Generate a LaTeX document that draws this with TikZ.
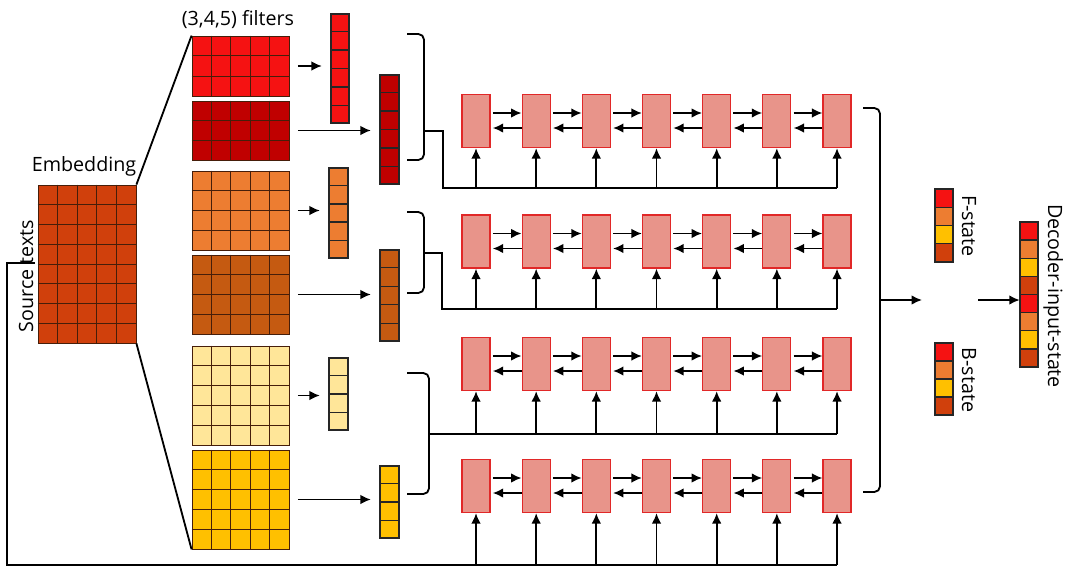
\documentclass[tikz,border=0pt]{standalone}
\usepackage{fontspec}
\setmainfont{Open Sans}
\usepackage{tikz}
\usetikzlibrary{arrows.meta,calc,fit}

\definecolor{embred}{RGB}{208,64,12}
\definecolor{fred}{RGB}{245,18,18}
\definecolor{fdark}{RGB}{192,0,0}
\definecolor{forange}{RGB}{237,125,49}
\definecolor{fbrown}{RGB}{197,90,17}
\definecolor{flight}{RGB}{255,230,153}
\definecolor{fgold}{RGB}{255,192,0}
\definecolor{cellfill}{RGB}{232,148,138}
\definecolor{celledge}{RGB}{225,40,40}
\definecolor{gridcol}{RGB}{70,30,10}

\begin{document}
\begin{tikzpicture}[x=0.025cm, y=-0.025cm,
  every node/.style={font=\fontsize{14}{16}\selectfont},
  matbox/.style={inner sep=0pt, draw=gridcol, line width=0.6pt},
  vecbox/.style={draw=black!85, line width=1pt},
  gridl/.style={draw=gridcol, line width=0.6pt},
  lstm/.style={draw=celledge, fill=cellfill, line width=0.9pt,
    minimum width=0.7cm, minimum height=1.325cm, inner sep=0pt},
  arr/.style={-{Latex[length=2.6mm,width=2.4mm]}, line width=1.3pt},
  wire/.style={line width=1.3pt}]
  \useasboundingbox (0,0) rectangle (1080,567);

  % embedding and the six filter maps
  \foreach \nm/\xa/\ya/\xb/\yb/\fc/\nc/\nr in {
      emb/38/185/136/343/embred/5/8,
      f1/192/36/289/96/fred/5/3,
      f2/192/101/289/160/fdark/5/3,
      f3/192/171/289/250/forange/5/4,
      f4/192/255/289/334/fbrown/5/4,
      f5/192/346/289/445/flight/5/5,
      f6/192/450/289/549/fgold/5/5} {
    \node[matbox, fill=\fc, fit={(\xa,\ya)(\xb,\yb)}] (\nm) {};
    \pgfmathtruncatemacro\ncm{\nc-1}
    \pgfmathtruncatemacro\nrm{\nr-1}
    \foreach \i in {1,...,\ncm}
      \draw[gridl] ($(\nm.north west)!\i/\nc!(\nm.north east)$) -- ($(\nm.south west)!\i/\nc!(\nm.south east)$);
    \foreach \j in {1,...,\nrm}
      \draw[gridl] ($(\nm.north west)!\j/\nr!(\nm.south west)$) -- ($(\nm.north east)!\j/\nr!(\nm.south east)$);
  }

  % pooled vectors
  \foreach \nm/\xa/\ya/\xb/\yb/\fc/\nr in {
      v1/331/14/349/123/fred/6,
      v2/380/75/399/184/fdark/6,
      v3/329/168/348/258/forange/5,
      v4/380/250/399/341/fbrown/5,
      v5/329/358/348/430/flight/4,
      v6/380/466/399/538/fgold/4} {
    \node[inner sep=0pt, vecbox, fill=\fc, fit={(\xa,\ya)(\xb,\yb)}] (\nm) {};
    \pgfmathtruncatemacro\nrm{\nr-1}
    \foreach \j in {1,...,\nrm}
      \draw[vecbox] ($(\nm.north west)!\j/\nr!(\nm.south west)$) -- ($(\nm.north east)!\j/\nr!(\nm.south east)$);
  }

  \node[anchor=base] (emblabel) at (84,171) {Embedding};
  \node[anchor=base] (filtlabel) at (238,25) {(3,4,5) filters};
  \node[anchor=base, rotate=90] (srclabel) at (33,276) {Source texts};

  \draw[wire] (emb.north east) -- (f1.north west);
  \draw[wire] (emb.south east) -- (f6.south west);
  \foreach \i in {1,...,6}
    \draw[arr, shorten <=6pt, shorten >=6pt] (f\i.east) -- (f\i.east -| v\i.west);

  % four bi-directional rows
  \foreach \r/\y in {1/121,2/241.5,3/364,4/486}
    \foreach \c in {1,...,7}
      \node[lstm] (r\r-\c) at ({476+60.17*(\c-1)},\y) {};
  \foreach \r in {1,...,4}
    \foreach \c [count=\d from 2] in {1,...,6} {
      \draw[arr, shorten <=1.5pt] ([yshift=0.2cm]r\r-\c.east) -- ([yshift=0.2cm]r\r-\d.west);
      \draw[arr, shorten >=1.5pt] ([yshift=-0.175cm]r\r-\d.west) -- ([yshift=-0.175cm]r\r-\c.east);
    }

  % brackets feeding the rows
  \draw[wire, rounded corners=4pt] (407,34) -- (424,34) -- (424,160) -- (407,160);
  \draw[wire, rounded corners=4pt] (407,212) -- (424,212) -- (424,293) -- (407,293);
  \draw[wire, rounded corners=4pt] (407,373) -- (429,373) -- (429,494) -- (407,494);
  \coordinate (stub1) at (424,131);
  \coordinate (feed1) at (443,188);
  \coordinate (stub2) at (424,253);
  \coordinate (feed2) at (442,309);
  \coordinate (feed3) at (429,434);
  \coordinate (srcend) at (35,263);
  \coordinate (feed4) at (7,565);
  \draw[wire] (stub1) -| (feed1) -- (feed1 -| r1-7);
  \draw[wire] (stub2) -| (feed2) -- (feed2 -| r2-7);
  \draw[wire] (feed3) -- (feed3 -| r3-7);
  \draw[wire] (srcend) -| (feed4) -- (feed4 -| r4-7);
  \foreach \r in {1,...,4}
    \foreach \c in {1,...,7}
      \draw[arr] (feed\r -| r\r-\c) -- (r\r-\c.south);

  % merge into the states
  \draw[wire, rounded corners=4pt] (863,108) -- (880,108) -- (880,492) -- (863,492);
  \coordinate (merge) at (880,300);
  \coordinate (mergeto) at (922,300);
  \draw[arr] (merge) -- (mergeto);

  \foreach \nm/\xa/\ya/\xb/\yb/\ncell in {fst/935/189/953/262/4, bst/935/343/953/415/4, dec/1020/222/1038/367/8} {
    \node[inner sep=0pt, fit={(\xa,\ya)(\xb,\yb)}] (\nm) {};
    \foreach \fc [count=\i from 0] in {fred,forange,fgold,embred,fred,forange,fgold,embred} {
      \ifnum\i<\ncell
        \draw[vecbox, fill=\fc] ({\xa},{\ya+\i*(\yb-\ya)/\ncell}) rectangle ({\xb},{\ya+(\i+1)*(\yb-\ya)/\ncell});
      \fi
    }
  }
  \node[anchor=base, rotate=-90] (flabel) at (962,226) {F-state};
  \node[anchor=base, rotate=-90] (blabel) at (962,380) {B-state};
  \node[anchor=base, rotate=-90] (declabel) at (1048,296) {Decoder-input-state};
  \coordinate (decin) at (978,300);
  \draw[arr] (decin) -- (decin -| dec.west);
\end{tikzpicture}
\end{document}
